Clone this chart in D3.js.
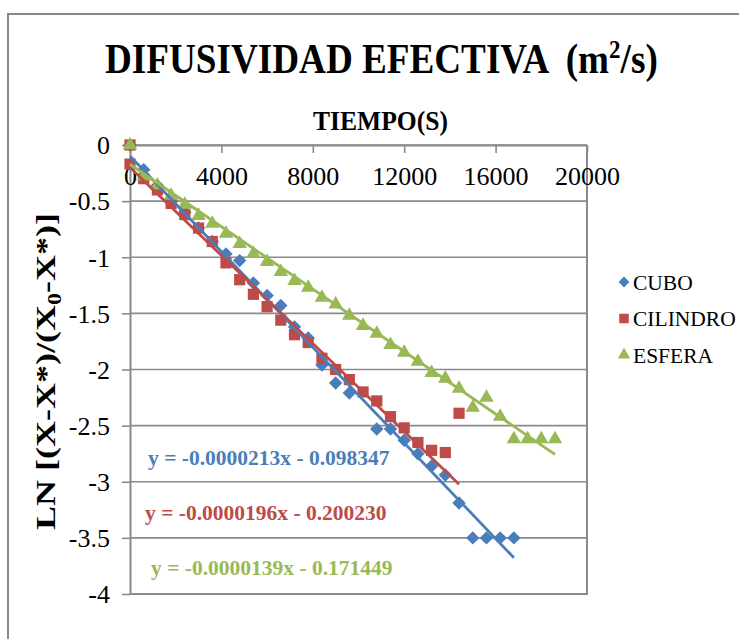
<!DOCTYPE html>
<html>
<head>
<meta charset="utf-8">
<script src="https://cdn.jsdelivr.net/npm/d3@7"></script>
<style>
  body { margin: 0; background: #fff; }
  svg { display: block; font-family: "Liberation Serif", "Times New Roman", serif; }
  text { white-space: pre; }
</style>
</head>
<body>
<svg id="chart"></svg>
<script>
// series data (time in s, LN ratio)
const tCubo = [0, 600, 1200, 1800, 2400, 3000, 3600, 4200, 4800, 5400, 6000, 6600, 7200, 7800, 8400, 9000, 9600, 10800, 11400, 12000, 12600, 13200, 13800, 14400, 15000, 15600, 16200, 16800];
const yCubo = [0, -0.22, -0.36, -0.50, -0.60, -0.74, -0.86, -0.97, -1.03, -1.23, -1.34, -1.43, -1.62, -1.72, -1.96, -2.12, -2.21, -2.53, -2.53, -2.63, -2.75, -2.86, -2.94, -3.19, -3.50, -3.50, -3.50, -3.50];

const tCilindro = [0, 0, 600, 1200, 1800, 2400, 3000, 3600, 4200, 4800, 5400, 6000, 6600, 7200, 7800, 8400, 9000, 9600, 10200, 10800, 11400, 12000, 12600, 13200, 13800, 14400];
const yCilindro = [0, -0.17, -0.30, -0.40, -0.52, -0.62, -0.74, -0.86, -1.05, -1.20, -1.33, -1.44, -1.56, -1.69, -1.76, -1.90, -2.00, -2.09, -2.20, -2.28, -2.42, -2.52, -2.65, -2.72, -2.74, -2.39];

const tEsfera = [0, 600, 1200, 1800, 2400, 3000, 3600, 4200, 4800, 5400, 6000, 6600, 7200, 7800, 8400, 9000, 9600, 10200, 10800, 11400, 12000, 12600, 13200, 13800, 14400, 15000, 15600, 16200, 16800, 17400, 18000, 18600];
const yEsfera = [0, -0.28, -0.36, -0.45, -0.53, -0.63, -0.70, -0.79, -0.88, -0.97, -1.04, -1.13, -1.21, -1.27, -1.36, -1.42, -1.52, -1.61, -1.68, -1.78, -1.85, -1.93, -2.03, -2.08, -2.17, -2.34, -2.25, -2.42, -2.62, -2.62, -2.62, -2.62];

// fitted lines actually drawn (slope, intercept) and their printed labels
const slopes = [-0.000213, -0.000196, -0.000139];
const intercepts = [-0.098347, -0.200230, -0.171449];
const eqLabels = ["y = -0.0000213x - 0.098347", "y = -0.0000196x - 0.200230", "y = -0.0000139x - 0.171449"];

const seriesNames = ["CUBO", "CILINDRO", "ESFERA"];
const colors = ["#4a7ebb", "#be4b48", "#98b954"];
const xTicks = [0, 4000, 8000, 12000, 16000, 20000];
const yTicks = [0, -0.5, -1, -1.5, -2, -2.5, -3, -3.5, -4];

const width = 739;
const height = 639;
const plot = { left: 130, right: 587, top: 145, bottom: 594 };

const svg = d3.select("#chart").attr("width", width).attr("height", height);

svg.append("rect").attr("width", width).attr("height", height).attr("fill", "#fff");

// outer chart frame
svg.append("path")
   .attr("d", `M${width + 2},14H8V${height + 2}`)
   .attr("fill", "none")
   .attr("stroke", "#878787")
   .attr("stroke-width", 2);

const x = d3.scaleLinear([0, 20000], [plot.left, plot.right]);
const y = d3.scaleLinear([-4, 0], [plot.bottom, plot.top]);

// horizontal gridlines
svg.append("g")
   .selectAll("line")
   .data(yTicks)
   .join("line")
   .attr("x1", plot.left)
   .attr("x2", plot.right)
   .attr("y1", d => y(d))
   .attr("y2", d => y(d))
   .attr("stroke", "#8a8a8a")
   .attr("stroke-width", 1.6);

// plot border (right and bottom)
svg.append("path")
   .attr("d", `M${plot.right},${plot.top}V${plot.bottom}H${plot.left}`)
   .attr("fill", "none")
   .attr("stroke", "#8a8a8a")
   .attr("stroke-width", 2);

// y axis
const yAxis = d3.axisLeft(y).tickValues(yTicks).tickSize(8).tickSizeOuter(0)
                .tickFormat(d => d3.format("")(d).replace("−", "-"));
svg.append("g")
   .attr("transform", `translate(${plot.left},0)`)
   .call(yAxis)
   .call(g => g.select(".domain").attr("stroke", "#8a8a8a").attr("stroke-width", 2))
   .call(g => g.selectAll(".tick line").attr("stroke", "#8a8a8a").attr("stroke-width", 1.6))
   .call(g => g.selectAll(".tick text")
               .attr("x", -20)
               .attr("dy", "0.34em")
               .attr("fill", "#000")
               .attr("font-size", 26)
               .attr("font-family", "Liberation Serif"));

// x axis along y = 0 (top)
const xAxis = d3.axisBottom(x).tickValues(xTicks).tickSize(8).tickSizeOuter(0)
                .tickFormat(d3.format("d"));
svg.append("g")
   .attr("transform", `translate(0,${y(0)})`)
   .call(xAxis)
   .call(g => g.select(".domain").attr("stroke", "#8a8a8a").attr("stroke-width", 2))
   .call(g => g.selectAll(".tick line").attr("stroke", "#8a8a8a").attr("stroke-width", 1.6))
   .call(g => g.selectAll(".tick text")
               .attr("y", 31)
               .attr("dy", "0.34em")
               .attr("fill", "#000")
               .attr("font-size", 26)
               .attr("font-family", "Liberation Serif"));

// markers
const symbols = [d3.symbolDiamond2, d3.symbolSquare2, d3.symbolTriangle2];
const symbolSizes = [115, 160, 150];
const allSeries = [
	tCubo.map((t, i) => [t, yCubo[i]]),
	tCilindro.map((t, i) => [t, yCilindro[i]]),
	tEsfera.map((t, i) => [t, yEsfera[i]]),
];

allSeries.forEach((data, s) => {
	const sym = d3.symbol(symbols[s], symbolSizes[s]);
	svg.append("g")
	   .selectAll("path")
	   .data(data)
	   .join("path")
	   .attr("transform", d => `translate(${x(d[0])},${y(d[1])})`)
	   .attr("d", sym)
	   .attr("fill", colors[s]);
});

// trendlines from 0 to last time of each series
allSeries.forEach((data, s) => {
	const xEnd = d3.max(data, d => d[0]);
	svg.append("line")
	   .attr("x1", x(0))
	   .attr("y1", y(intercepts[s]))
	   .attr("x2", x(xEnd))
	   .attr("y2", y(intercepts[s] + slopes[s] * xEnd))
	   .attr("stroke", colors[s])
	   .attr("stroke-width", 2.8);
});

// equation labels
const eqPos = [[148, 465], [145, 520], [151, 575]];
svg.append("g")
   .selectAll("text")
   .data(eqLabels)
   .join("text")
   .attr("x", (d, i) => eqPos[i][0])
   .attr("y", (d, i) => eqPos[i][1])
   .attr("fill", (d, i) => colors[i])
   .attr("font-size", 21.5)
   .attr("font-weight", "bold")
   .text(d => d);

// squeeze a text horizontally to a target width (narrow Times look)
function fitWidth(sel, tx, ty, target, rotate) {
	const w = sel.node().getBBox().width;
	const k = target / w;
	sel.attr("transform", `translate(${tx},${ty})${rotate ? " rotate(-90)" : ""} scale(${k},1)`);
}

// title
const title = svg.append("text")
   .attr("font-size", 42)
   .attr("font-weight", "bold");
title.append("tspan").text("DIFUSIVIDAD EFECTIVA  (m");
title.append("tspan").attr("font-size", 26).attr("dy", -15).text("2");
title.append("tspan").attr("dy", 15).text("/s)");
fitWidth(title, 105, 73, 553, false);

// x axis title
const xTitle = svg.append("text")
   .attr("font-size", 27)
   .attr("font-weight", "bold")
   .text("TIEMPO(S)");
fitWidth(xTitle, 313, 130, 135, false);

// y axis title
const yTitle = svg.append("text")
   .attr("font-size", 27)
   .attr("font-weight", "bold");
yTitle.append("tspan").text("LN [(X-X*)/(X");
yTitle.append("tspan").attr("font-size", 18).attr("dy", 6).text("0");
yTitle.append("tspan").attr("dy", -6).text("-X*)]");
fitWidth(yTitle, 55, 530, 317, true);

// legend
const legend = svg.append("g")
   .selectAll("g")
   .data(seriesNames)
   .join("g")
   .attr("transform", (d, i) => `translate(624,${282 + i * 36.5})`);
legend.append("path")
   .attr("d", (d, i) => d3.symbol(symbols[i], [75, 115, 110][i])())
   .attr("fill", (d, i) => colors[i]);
legend.append("text")
   .attr("x", 9)
   .attr("dy", "0.35em")
   .attr("font-size", 21.5)
   .text(d => d);
</script>
</body>
</html>
